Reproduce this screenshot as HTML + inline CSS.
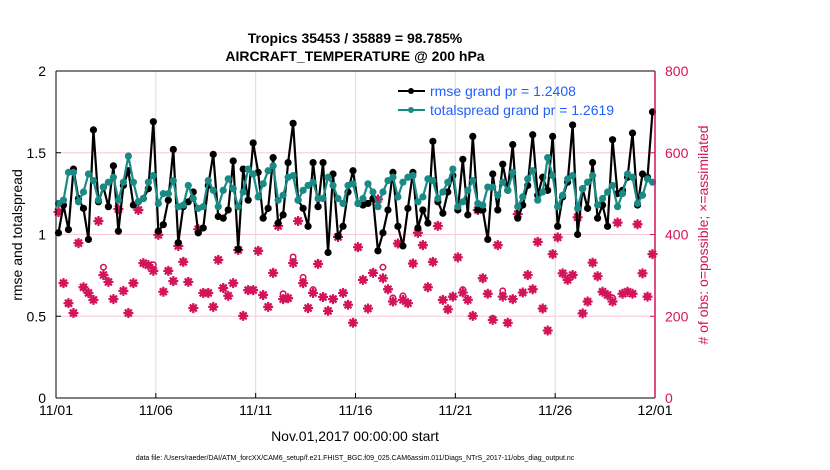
<!DOCTYPE html>
<html><head><meta charset="utf-8"><style>
html,body{margin:0;padding:0;background:#fff;}
svg{display:block;font-family:"Liberation Sans",sans-serif;}
</style></head><body>
<svg id="chart" width="830" height="470" viewBox="0 0 830 470">
<text x="355" y="43" text-anchor="middle" font-size="14" font-weight="bold">Tropics 35453 / 35889 = 98.785%</text>
<text x="355" y="61" text-anchor="middle" font-size="14" font-weight="bold">AIRCRAFT_TEMPERATURE @ 200 hPa</text>
<g id="grid"></g>
<g id="marks"></g>
<g id="axes"></g>
<text x="22" y="235" transform="rotate(-90 22 235)" text-anchor="middle" font-size="14">rmse and totalspread</text>
<text x="708" y="235" transform="rotate(-90 708 235)" text-anchor="middle" font-size="14" fill="#d4145a"># of obs: o=possible; ×=assimilated</text>
<text x="355" y="441" text-anchor="middle" font-size="14">Nov.01,2017 00:00:00 start</text>
<text x="355" y="460" text-anchor="middle" font-size="7">data file: /Users/raeder/DAI/ATM_forcXX/CAM6_setup/f.e21.FHIST_BGC.f09_025.CAM6assim.011/Diags_NTrS_2017-11/obs_diag_output.nc</text>
<g>
<line x1="398" y1="91" x2="425" y2="91" stroke="#000" stroke-width="2"/>
<circle cx="411" cy="91" r="3" fill="#000"/>
<text x="430" y="96" font-size="14" fill="#1f5fff">rmse grand pr = 1.2408</text>
<line x1="398" y1="110" x2="425" y2="110" stroke="#1a8a85" stroke-width="2"/>
<circle cx="411" cy="110" r="3" fill="#1a8a85"/>
<text x="430" y="115" font-size="14" fill="#1f5fff">totalspread grand pr = 1.2619</text>
</g>
</svg>
<script>
const xTickLabels = ["11/01","11/06","11/11","11/16","11/21","11/26","12/01"];
const yTickLabels = ["0","0.5","1","1.5","2"];
const rightTickLabels = ["0","200","400","600","800"];
const rmse = [1.01,1.18,1.03,1.40,1.22,1.16,0.97,1.64,1.20,1.29,1.17,1.42,1.02,1.30,1.39,1.18,1.20,1.22,1.28,1.69,1.02,1.06,1.21,1.52,0.95,1.17,1.20,1.26,1.01,1.04,1.30,
1.49,1.11,1.10,1.15,1.45,0.91,1.40,1.21,1.56,1.38,1.10,1.16,1.47,1.07,1.12,1.44,1.68,1.21,1.16,1.05,1.44,1.17,1.44,0.89,1.37,0.99,1.05,1.26,1.39,1.19,
1.18,1.19,1.22,0.90,1.01,1.15,1.38,1.05,0.93,1.16,1.38,1.04,1.15,1.07,1.57,1.20,1.13,1.26,1.36,1.15,1.46,1.12,1.60,1.15,1.15,0.97,1.37,1.15,1.43,1.27,
1.55,1.10,1.18,1.30,1.61,1.24,1.35,1.27,1.60,1.05,1.23,1.32,1.67,1.00,1.28,1.16,1.44,1.10,1.18,1.05,1.58,1.25,1.27,1.35,1.62,1.18,1.37,1.35,1.75];
const totalspread = [1.19,1.21,1.38,1.38,1.20,1.26,1.37,1.33,1.21,1.29,1.32,1.35,1.21,1.32,1.48,1.32,1.20,1.22,1.32,1.36,1.19,1.25,1.25,1.33,1.17,1.18,1.30,1.22,1.16,1.17,1.33,
1.27,1.17,1.27,1.34,1.28,1.17,1.26,1.40,1.37,1.23,1.31,1.39,1.42,1.21,1.24,1.35,1.36,1.21,1.27,1.30,1.32,1.22,1.22,1.35,1.30,1.22,1.19,1.30,1.31,1.19,
1.22,1.31,1.26,1.17,1.26,1.33,1.35,1.23,1.32,1.35,1.36,1.20,1.23,1.34,1.33,1.22,1.26,1.32,1.40,1.17,1.20,1.27,1.33,1.19,1.18,1.29,1.29,1.24,1.32,1.27,
1.38,1.17,1.23,1.34,1.39,1.21,1.26,1.47,1.36,1.17,1.24,1.34,1.36,1.16,1.28,1.32,1.36,1.18,1.22,1.26,1.30,1.17,1.25,1.37,1.35,1.19,1.24,1.34,1.32];
const assimilated = [455,281,232,208,379,271,257,240,433,301,284,242,462,262,208,281,460,330,325,311,399,260,311,286,372,333,284,220,413,257,257,
223,338,269,250,281,362,201,264,264,360,252,223,306,421,242,244,330,433,281,220,257,328,247,213,242,394,257,228,184,369,
289,219,306,486,293,266,236,378,240,232,329,404,374,271,333,421,240,217,248,344,258,240,201,460,293,255,191,374,248,184,
242,450,258,301,266,382,219,165,352,393,305,289,301,442,207,236,331,298,260,252,236,429,255,260,255,425,305,248,352];
const possible = [455,281,232,208,379,271,257,240,433,320,284,242,462,262,208,281,460,330,325,326,399,260,311,286,372,333,284,220,413,257,257,
223,338,269,250,281,362,201,264,264,360,252,223,306,421,255,244,345,433,295,220,265,328,247,213,242,394,257,228,184,369,
289,219,306,486,320,266,245,378,250,232,329,404,374,271,333,421,240,217,248,344,265,240,201,460,293,255,195,374,262,184,
242,450,258,301,266,382,219,165,352,393,305,289,301,442,207,236,331,298,260,252,245,429,255,260,255,425,305,248,352];

const L=56,R=655,T=71,B=398;
const xDay=d=>L+(R-L)*d/30;
const xIdx=i=>xDay((i+0.5)/4);
const yL=v=>B-(B-T)*v/2;
const yR=v=>B-(B-T)*v/800;
const NS="http://www.w3.org/2000/svg";
function mk(tag,attrs,parent){const e=document.createElementNS(NS,tag);for(const k in attrs)e.setAttribute(k,attrs[k]);parent.appendChild(e);return e;}
const grid=document.getElementById('grid'),marks=document.getElementById('marks'),axes=document.getElementById('axes');
mk('rect',{x:L,y:T,width:R-L,height:B-T,fill:'#fff'},grid);
xTickLabels.forEach((t,k)=>{const x=xDay(k*5);
 if(k>0&&k<6){const g=mk('line',{x1:x,y1:T,x2:x,y2:B,stroke:'#dcdcdc','stroke-width':1},grid);
 
 }
 const tx=mk('text',{x:x,y:415,'text-anchor':'middle','font-size':14},axes);tx.textContent=t;
 
 
 mk('line',{x1:x,y1:B,x2:x,y2:B-5,stroke:'#000'},axes);
});
yTickLabels.forEach((t,k)=>{const v=parseFloat(t),y=yL(v);
 if(k>0&&k<4){const g=mk('line',{x1:L,y1:y,x2:R,y2:y,stroke:'#f6c9d8','stroke-width':1},grid);
 
 }
 const tx=mk('text',{x:L-10,y:y+5,'text-anchor':'end','font-size':14},axes);tx.textContent=t;
 
 
 mk('line',{x1:L,y1:y,x2:L+5,y2:y,stroke:'#000'},axes);
});
rightTickLabels.forEach(t=>{const y=yR(parseFloat(t));
 const tx=mk('text',{x:R+10,y:y+5,'font-size':14,fill:'#d4145a'},axes);tx.textContent=t;
 
 
 mk('line',{x1:R,y1:y,x2:R-5,y2:y,stroke:'#d4145a'},axes);
});
mk('line',{x1:L,y1:T,x2:R,y2:T,stroke:'#000'},axes);
mk('line',{x1:L,y1:B,x2:R,y2:B,stroke:'#000'},axes);
mk('line',{x1:L,y1:T,x2:L,y2:B,stroke:'#000'},axes);
mk('line',{x1:R,y1:T,x2:R,y2:B,stroke:'#d4145a','stroke-width':1.5},axes);
possible.forEach((v,i)=>{const c=mk('circle',{cx:xIdx(i),cy:yR(v),r:2.7,fill:'none',stroke:'#d4145a','stroke-width':1.6},marks);
 
 });
assimilated.forEach((v,i)=>{const x=xIdx(i),y=yR(v);const p=mk('path',{d:`M${x-5},${y}L${x+5},${y}M${x},${y-5}L${x},${y+5}M${x-3.5},${y-3.5}L${x+3.5},${y+3.5}M${x-3.5},${y+3.5}L${x+3.5},${y-3.5}`,stroke:'#d4145a','stroke-width':2.2},marks);
 
 });
function series(arr,color,name){
 const pl=mk('polyline',{points:arr.map((v,i)=>xIdx(i)+','+yL(v)).join(' '),fill:'none',stroke:color,'stroke-width':2.2,'stroke-linejoin':'round'},marks);
 
 
 arr.forEach((v,i)=>{const c=mk('circle',{cx:xIdx(i),cy:yL(v),r:3.6,fill:color},marks);
  
  });
}
series(rmse,'#000','rmse');
series(totalspread,'#1a8a85','totalspread');
</script>
</body></html>
